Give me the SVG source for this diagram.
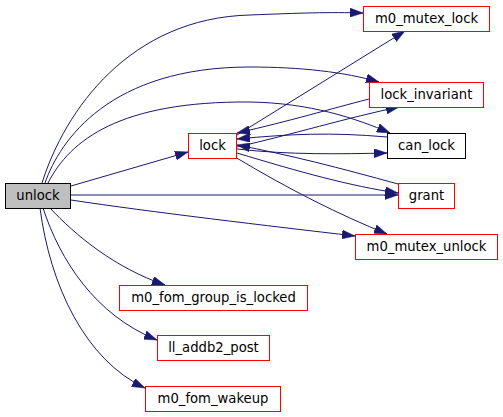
<svg xmlns="http://www.w3.org/2000/svg" width="503" height="417" viewBox="0 0 503 417">
<style>
.n rect{fill:#ffffff;stroke:#ff0000;stroke-width:1}
.n text{font-family:"DejaVu Sans",sans-serif;font-size:13.2px;text-anchor:middle;fill:#000000}
#unlock rect{fill:#bfbfbf;stroke:#000000}
#can_lock rect{stroke:#000000}
#edges path{fill:none;stroke:#191970;stroke-width:1;marker-end:url(#ah)}
</style>
<defs>
<marker id="ah" viewBox="0 0 13 9" refX="13" refY="4.5" markerWidth="13" markerHeight="9" markerUnits="userSpaceOnUse" orient="auto">
<path d="M0,0 L13,4.5 L0,9 z" fill="#191970" stroke="#191970" stroke-width="0.5"/>
</marker>
</defs>
<rect width="503" height="417" fill="#ffffff"/>
<g id="edges">
<path d="M42,183 C65,110 130,18 250,15 C300,13 330,12 363,13"/>
<path d="M45,183 C60,140 110,67 250,67 C300,67 345,72 379,82"/>
<path d="M48,183 C70,140 120,101 250,102 C310,103 355,118 390,133"/>
<path d="M71,186 L188,152"/>
<path d="M71,195 L398,195"/>
<path d="M71,200 C150,212 270,226 355,236"/>
<path d="M50,208 C75,235 115,268 165,285"/>
<path d="M43,208 C60,260 95,315 157,340"/>
<path d="M40,208 C50,285 85,360 145,388"/>
<path d="M237,135 L405,31"/>
<path d="M369,99 C330,109 290,121 237,133"/>
<path d="M237,147 C290,135 350,117 399,107"/>
<path d="M387,137 C330,132 290,134 237,139"/>
<path d="M237,149 C290,155 340,154 387,153"/>
<path d="M398,184 C340,168 290,155 237,145"/>
<path d="M237,153 C300,172 350,186 398,193"/>
<path d="M235,157 C290,190 340,215 387,234"/>
</g>
<g id="unlock" class="n"><rect x="5.5" y="183.5" width="65" height="25"/><text x="38" y="200">unlock</text></g>
<g id="lock" class="n"><rect x="188.5" y="133.5" width="48" height="25"/><text x="212.5" y="150">lock</text></g>
<g id="m0_mutex_lock" class="n"><rect x="363.5" y="6.5" width="126" height="25"/><text x="426.5" y="23">m0_mutex_lock</text></g>
<g id="lock_invariant" class="n"><rect x="369.5" y="82.5" width="114" height="25"/><text x="426.5" y="99">lock_invariant</text></g>
<g id="can_lock" class="n"><rect x="387.5" y="133.5" width="78" height="25"/><text x="426.5" y="150">can_lock</text></g>
<g id="grant" class="n"><rect x="398.5" y="183.5" width="56" height="25"/><text x="426.5" y="200">grant</text></g>
<g id="m0_mutex_unlock" class="n"><rect x="355.5" y="234.5" width="142" height="25"/><text x="426.5" y="251">m0_mutex_unlock</text></g>
<g id="m0_fom_group_is_locked" class="n"><rect x="119.5" y="285.5" width="188" height="25"/><text x="213.5" y="302">m0_fom_group_is_locked</text></g>
<g id="ll_addb2_post" class="n"><rect x="157.5" y="335.5" width="112" height="25"/><text x="213.5" y="352">ll_addb2_post</text></g>
<g id="m0_fom_wakeup" class="n"><rect x="145.5" y="386.5" width="135" height="25"/><text x="213" y="403">m0_fom_wakeup</text></g>
</svg>
